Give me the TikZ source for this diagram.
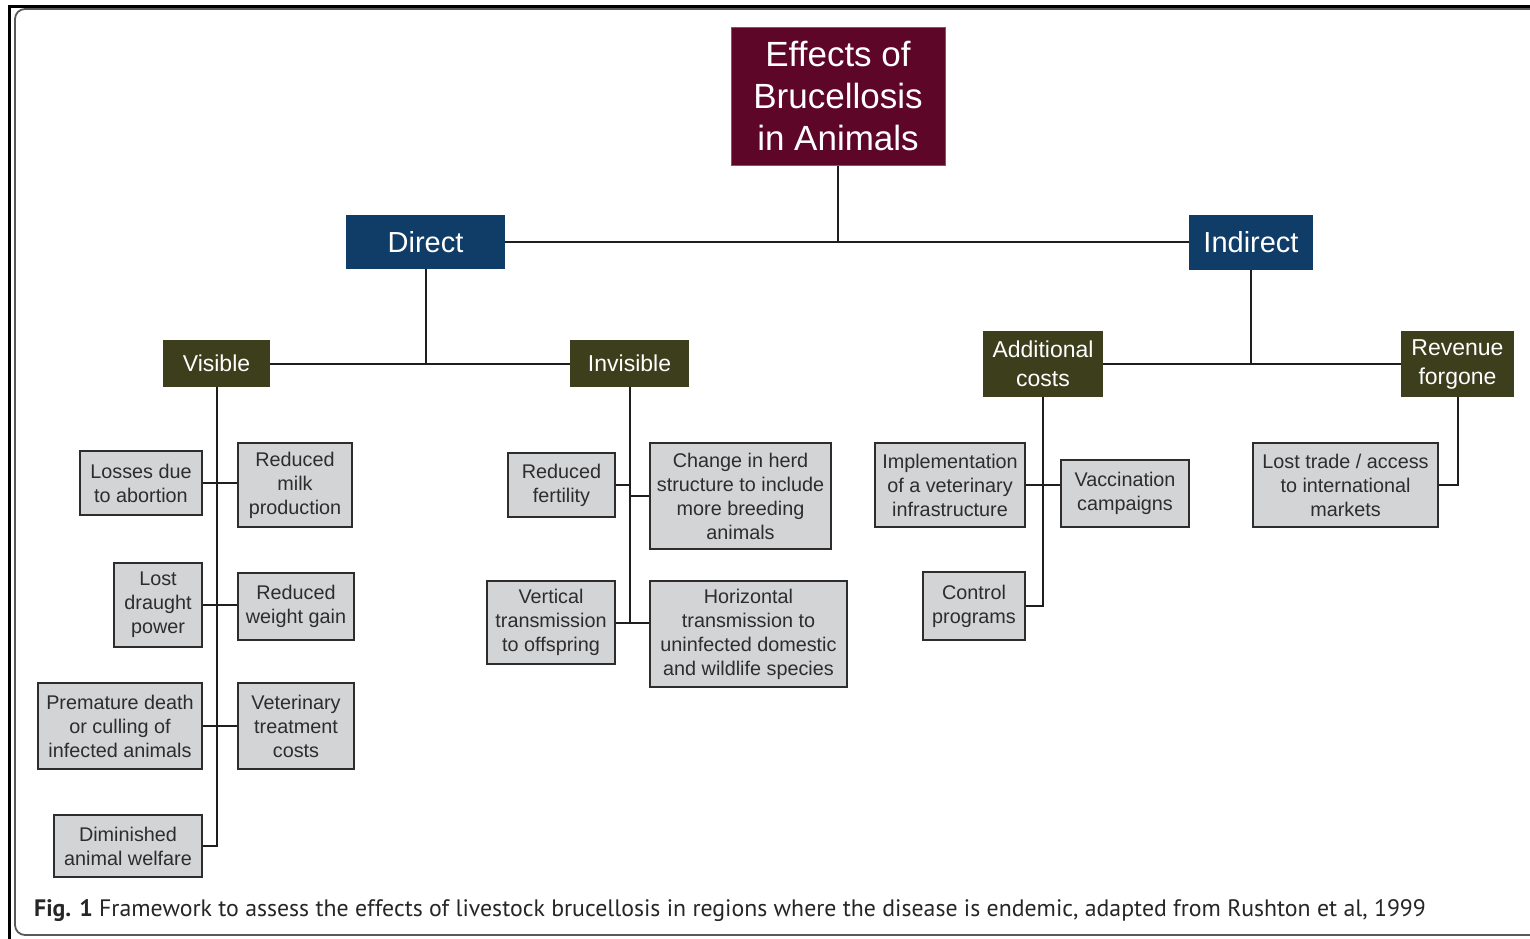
\documentclass[tikz,border=0pt]{standalone}
\usepackage{fontspec}
\setmainfont{Liberation Sans}
\newfontfamily\capfont{PT Sans}
\definecolor{maroonbox}{RGB}{94,6,40}
\definecolor{navybox}{RGB}{16,60,104}
\definecolor{olivebox}{RGB}{60,62,28}
\definecolor{leaffill}{RGB}{211,212,214}
\definecolor{leafline}{RGB}{45,45,45}
\definecolor{leaftext}{RGB}{45,45,45}
\definecolor{linkcol}{RGB}{30,30,30}
\tikzset{
  rootbox/.style={fill=maroonbox, draw=black!60, line width=1pt, text=white,
    font=\fontsize{35}{42}\selectfont, align=center, inner sep=0pt},
  branchbox/.style={fill=navybox, text=white, inner sep=0pt,
    font=\fontsize{29}{34}\selectfont},
  groupbox/.style={fill=olivebox, text=white, inner sep=0pt, align=center,
    font=\fontsize{23}{29}\selectfont},
  leafbox/.style={fill=leaffill, draw=leafline, line width=2pt, text=leaftext,
    inner sep=0pt, align=center, font=\fontsize{19.8}{24}\selectfont},
  link/.style={draw=linkcol, line width=2pt},
}
\newcommand{\boxat}[6]{% name, style, cx, cy, w, h, text
  \node[#2, minimum width=#5pt, minimum height=#6pt] (#1) at (#3,#4)}
\begin{document}
\begin{tikzpicture}[x=1pt, y=-1pt]
\useasboundingbox (0,0) rectangle (1530,938);
\clip (0,0) rectangle (1530,938);
\fill[white] (0,0) rectangle (1530,938);

% page frame
\draw[line width=1.8pt, black!65, rounded corners=10pt] (15,9) rectangle (1560,935);
\draw[line width=3pt, black] (9.5,940) -- (9.5,6.5) -- (1532,6.5);

% top levels
\boxat{root}{rootbox}{838}{96}{214}{138} {Effects of\\Brucellosis\\in Animals};
\boxat{direct}{branchbox}{425.5}{242}{159}{54} {Direct};
\boxat{indirect}{branchbox}{1251}{242}{124}{55} {Indirect};
\boxat{visible}{groupbox}{216.5}{363.5}{107}{47} {Visible};
\boxat{invisible}{groupbox}{629.5}{363.5}{119}{47} {Invisible};
\boxat{addcost}{groupbox}{1043}{364}{120}{66} {Additional\\costs};
\boxat{revenue}{groupbox}{1457.5}{364}{113}{66} {Revenue\\forgone};

% visible effects
\boxat{abort}{leafbox}{141}{483}{122}{64} {Losses due\\to abortion};
\boxat{milk}{leafbox}{295}{485}{114}{84} {Reduced\\milk\\production};
\boxat{draught}{leafbox}{158}{605}{88}{84} {Lost\\draught\\power};
\boxat{weight}{leafbox}{296}{606.5}{116}{67} {Reduced\\weight gain};
\boxat{premature}{leafbox}{120}{726}{164}{86} {Premature death\\or culling of\\infected animals};
\boxat{vetcost}{leafbox}{296}{726}{116}{86} {Veterinary\\treatment\\costs};
\boxat{welfare}{leafbox}{128}{846}{148}{62} {Diminished\\animal welfare};

% invisible effects
\boxat{fertility}{leafbox}{561.5}{485}{107}{64} {Reduced\\fertility};
\boxat{herd}{leafbox}{740.5}{496}{181}{106} {Change in herd\\structure to include\\more breeding\\animals};
\boxat{vtrans}{leafbox}{551}{622.5}{128}{83} {Vertical\\transmission\\to offspring};
\boxat{htrans}{leafbox}{748.5}{634}{197}{106} {Horizontal\\transmission to\\uninfected domestic\\and wildlife species};

% additional costs
\boxat{infra}{leafbox}{950}{485}{150}{84} {Implementation\\of a veterinary\\infrastructure};
\boxat{vacc}{leafbox}{1125}{493.5}{128}{67} {Vaccination\\campaigns};
\boxat{control}{leafbox}{974}{606}{102}{68} {Control\\programs};

% revenue forgone
\boxat{trade}{leafbox}{1345.5}{485}{185}{84} {Lost trade / access\\to international\\markets};

% connectors
\draw[link] (root.south) -- (root.south |- direct.east);
\draw[link] (direct.east) -- (indirect.west);
\draw[link] (direct.south) -- (direct.south |- visible.east);
\draw[link] (visible.east) -- (invisible.west);
\draw[link] (indirect.south) -- (indirect.south |- addcost.east);
\draw[link] (addcost.east) -- (revenue.west);

\draw[link] (visible.south) |- (welfare.east);
\draw[link] (abort.east) -- (abort.east -| milk.west);
\draw[link] (draught.east) -- (draught.east -| weight.west);
\draw[link] (premature.east) -- (premature.east -| vetcost.west);

\draw[link] (invisible.south) -- (invisible.south |- vtrans.east);
\draw[link] (fertility.east) -- (fertility.east -| invisible.south);
\draw[link] (herd.west) -- (herd.west -| invisible.south);
\draw[link] (vtrans.east) -- (vtrans.east -| htrans.west);

\draw[link] (addcost.south) |- (control.east);
\draw[link] (infra.east) -- (infra.east -| vacc.west);

\draw[link] (revenue.south) |- (trade.east);

% caption
\node[anchor=base west, inner sep=0pt, text=black!85, font=\capfont\fontsize{23.8}{26}\selectfont] (caption) at (34,916)
  {\textbf{Fig. 1} Framework to assess the effects of livestock brucellosis in regions where the disease is endemic, adapted from Rushton et al, 1999};
\end{tikzpicture}
\end{document}
